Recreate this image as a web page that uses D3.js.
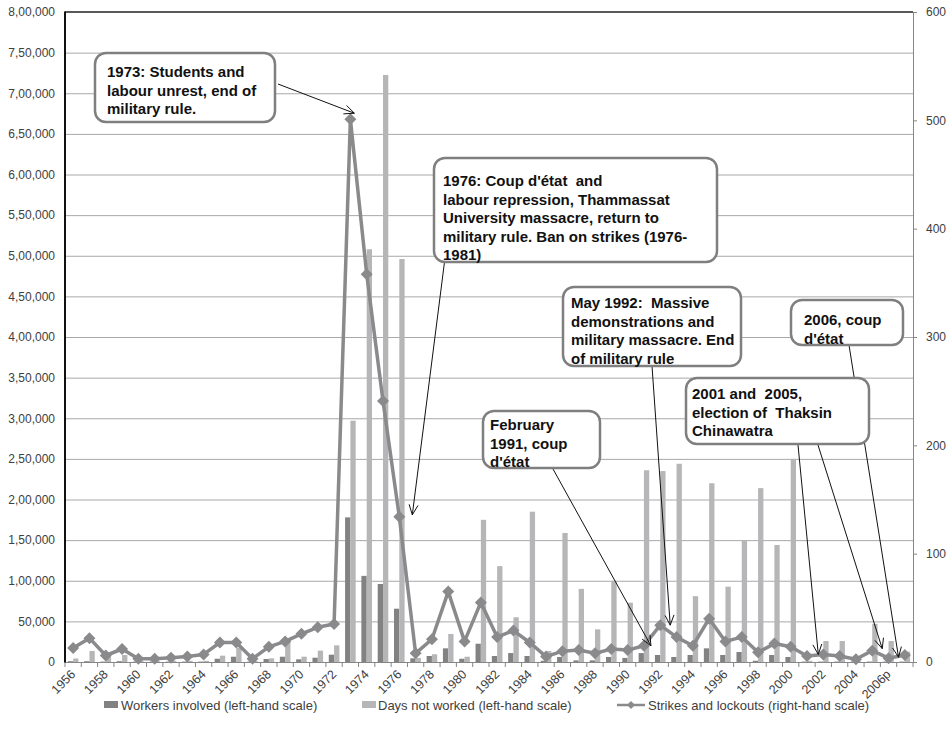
<!DOCTYPE html>
<html><head><meta charset="utf-8">
<script src="https://cdn.jsdelivr.net/npm/d3@7"></script>
<style>body{margin:0;background:#fff}svg{display:block}</style>
</head><body><svg id="c" width="951" height="742"></svg>
<script>
const years = ["1956","1957","1958","1959","1960","1961","1962","1963","1964","1965","1966","1967","1968","1969","1970","1971","1972","1973","1974","1975","1976","1977","1978","1979","1980","1981","1982","1983","1984","1985","1986","1987","1988","1989","1990","1991","1992","1993","1994","1995","1996","1997","1998","1999","2000","2001","2002","2003","2004","2005","2006p","2007p"];
const workers = [1000,1000,500,1000,500,500,500,500,500,4000,6500,500,3700,6500,3300,5300,9000,178000,106000,96000,65600,4500,7400,16800,4000,22500,7400,11000,7400,1500,6200,2000,2000,6200,5000,11000,8600,6200,8600,16800,8600,12300,1500,8600,6200,500,500,500,500,500,500,500];
const daysLost = [4300,13500,7000,8600,1000,1000,1500,1500,1500,7800,17500,1000,4500,25000,6500,14000,20500,297000,508000,722500,496000,5000,9500,34500,6500,175000,118000,55000,185000,13500,158800,90000,40200,100000,73000,236000,235000,244000,81000,220000,92700,150000,214000,144000,250000,1500,25800,25800,1000,47000,25800,12700];
const strikes = [13,22,6,12,3,3,4,5,7,18,18,3,14,19,26,32,35,501,358,241,134,8,21,65,19,55,23,29,18,5,10,11,8,12,11,15,34,23,15,40,19,23,9,17,14,5.5,7,5.5,2.5,10.5,3.5,6.5];
const leftTicks = d3.range(0, 800001, 50000);
const rightTicks = [0,100,200,300,400,500,600];
const seriesNames = ["Workers involved (left-hand scale)","Days not worked (left-hand scale)","Strikes and lockouts (right-hand scale)"];

const notes = [
  {lines:["1973: Students and","labour unrest, end of","military rule."], box:[95,53,180,69], from:[278,84], to:["1973",4,-6], tx:107, ty:77},
  {lines:["1976: Coup d'état  and","labour repression, Thammassat","University massacre, return to","military rule. Ban on strikes (1976-","1981)"], box:[434,158,283,104], from:[445,258], to:["1976",13,-2], tx:443, ty:186},
  {lines:["May 1992:  Massive","demonstrations and","military massacre. End","of military rule"], box:[563,287,178,79], from:[652,366], to:["1992",10,0], tx:571, ty:308},
  {lines:["February","1991, coup","d'état"], box:[483,411,117,57], from:[553,469], to:["1991",7,0], tx:490, ty:430},
  {lines:["2001 and  2005,","election of  Thaksin","Chinawatra"], box:[686,378,183,66], from:[798,445], to:["2002",-5,0], tx:692, ty:399},
  {lines:[], box:null, from:[818,445], to:["2005",10,-2]},
  {lines:["2006, coup","d'état"], box:[791,300,112,45], from:[849,345], to:["2006p",10,-1], tx:804, ty:325}
];

const svg = d3.select("#c");
const L=65, R=913, T=12, B=662;
const x = d3.scaleBand().domain(years).range([L,R]).padding(0);
const bw = x.bandwidth();
const x1 = d3.scaleBand().domain(["w","d"]).range([bw*0.175, bw*0.825]).padding(0);
const yL = d3.scaleLinear().domain([0,800000]).range([B,T]);
const yR = d3.scaleLinear().domain([0,600]).range([B,T]);
const font = "'Liberation Sans', Arial, sans-serif";

function indianFmt(v){
  if(v===0) return "0";
  if(v<100000) return d3.format(",")(v);
  const l=Math.floor(v/100000), r=v%100000;
  const rs=String(r).padStart(5,"0");
  return l+","+rs.slice(0,2)+","+rs.slice(2);
}

// gridlines
svg.append("g").selectAll("line").data(leftTicks.slice(1,-1)).join("line")
  .attr("x1",L).attr("x2",R).attr("y1",d=>yL(d)+0.5).attr("y2",d=>yL(d)+0.5)
  .attr("stroke","#a8a8a8").attr("stroke-width",1);

// left axis labels
const gl = svg.append("g").attr("transform",`translate(${L},0)`).call(d3.axisLeft(yL).tickValues(leftTicks).tickFormat(indianFmt).tickSize(0).tickPadding(10));
gl.select(".domain").remove();
gl.selectAll("text").attr("font-family",font).attr("font-size",12).attr("fill","#404040");

// right axis
const gr = svg.append("g").attr("transform",`translate(${R},0)`).call(d3.axisRight(yR).tickValues(rightTicks).tickSize(4).tickPadding(9));
gr.select(".domain").attr("stroke","#868686");
gr.selectAll(".tick line").attr("stroke","#868686");
gr.selectAll("text").attr("font-family",font).attr("font-size",12).attr("fill","#404040");

// bars
const gb = svg.append("g");
gb.selectAll("rect.w").data(years).join("rect").attr("class","w")
  .attr("x",(d)=>x(d)+x1("w")).attr("width",x1.bandwidth())
  .attr("y",(d,i)=>yL(workers[i])).attr("height",(d,i)=>B-yL(workers[i]))
  .attr("fill","#828282");
gb.selectAll("rect.d").data(years).join("rect").attr("class","d")
  .attr("x",(d)=>x(d)+x1("d")).attr("width",x1.bandwidth())
  .attr("y",(d,i)=>yL(daysLost[i])).attr("height",(d,i)=>B-yL(daysLost[i]))
  .attr("fill","#b6b6b8");

// x axis
const gx = svg.append("g").attr("transform",`translate(0,${B})`);
gx.append("line").attr("x1",L).attr("x2",R).attr("y1",0.5).attr("y2",0.5).attr("stroke","#868686");
gx.selectAll("line.t").data(d3.range(years.length+1)).join("line").attr("class","t")
  .attr("x1",i=>L+i*bw).attr("x2",i=>L+i*bw).attr("y1",0).attr("y2",5).attr("stroke","#868686");
gx.selectAll("text").data(years.filter((d,i)=>i%2===0)).join("text")
  .attr("transform",d=>`translate(${x(d)+bw/2+3},${13}) rotate(-45)`)
  .attr("text-anchor","end").attr("font-family",font).attr("font-size",12.5).attr("fill","#404040")
  .text(d=>d);

// frame lines
svg.append("line").attr("x1",L).attr("x2",R).attr("y1",T).attr("y2",T).attr("stroke","#222").attr("stroke-width",1.5);
svg.append("line").attr("x1",L).attr("x2",L).attr("y1",T-0.5).attr("y2",B+0.5).attr("stroke","#111").attr("stroke-width",2);

// line series
const cx = d=>x(d)+bw/2;
const line = d3.line().x((d,i)=>cx(years[i])).y(d=>yR(d));
svg.append("path").datum(strikes).attr("d",line).attr("fill","none").attr("stroke","#8a8a8c").attr("stroke-width",3.5).attr("stroke-linejoin","round");
svg.append("g").selectAll("path").data(strikes).join("path")
  .attr("d","M0,-6L6,0L0,6L-6,0Z")
  .attr("transform",(d,i)=>`translate(${cx(years[i])},${yR(d)})`)
  .attr("fill","#8a8a8c");

// annotations
const ga = svg.append("g");
notes.forEach(n=>{
  const yi = years.indexOf(n.to[0]);
  const tx = cx(n.to[0])+n.to[1], ty = yR(strikes[yi])+n.to[2];
  const [fx,fy]=n.from;
  ga.append("line").attr("x1",fx).attr("y1",fy).attr("x2",tx).attr("y2",ty).attr("stroke","#111").attr("stroke-width",1);
  const a = Math.atan2(ty-fy,tx-fx), len=11, sp=0.42;
  ga.append("path").attr("d",`M${tx-len*Math.cos(a-sp)},${ty-len*Math.sin(a-sp)}L${tx},${ty}L${tx-len*Math.cos(a+sp)},${ty-len*Math.sin(a+sp)}`)
    .attr("fill","none").attr("stroke","#111").attr("stroke-width",1);
});
notes.filter(n=>n.box).forEach(n=>{
  const [bx,by,bw2,bh]=n.box;
  ga.append("rect").attr("x",bx).attr("y",by).attr("width",bw2).attr("height",bh).attr("rx",11).attr("ry",11)
    .attr("fill","#fff").attr("stroke","#7f7f7f").attr("stroke-width",2.5);
  const t = ga.append("text").attr("font-family",font).attr("font-size",15).attr("font-weight","bold").attr("fill","#111");
  n.lines.forEach((s,i)=>t.append("tspan").attr("x",n.tx).attr("y",n.ty+i*18.5).attr("xml:space","preserve").text(s));
});

// legend
const lg = svg.append("g").attr("font-family",font).attr("font-size",13).attr("fill","#404040");
lg.append("rect").attr("x",104).attr("y",701).attr("width",14).attr("height",7).attr("fill","#828282");
lg.append("text").attr("x",121).attr("y",710).text(seriesNames[0]);
lg.append("rect").attr("x",362).attr("y",701).attr("width",14).attr("height",7).attr("fill","#b6b6b8");
lg.append("text").attr("x",378).attr("y",710).text(seriesNames[1]);
lg.append("line").attr("x1",617).attr("x2",645).attr("y1",705).attr("y2",705).attr("stroke","#8a8a8c").attr("stroke-width",2.5);
lg.append("path").attr("d","M0,-4L4,0L0,4L-4,0Z").attr("transform","translate(631,705)").attr("fill","#8a8a8c");
lg.append("text").attr("x",648).attr("y",710).text(seriesNames[2]);
</script></body></html>
